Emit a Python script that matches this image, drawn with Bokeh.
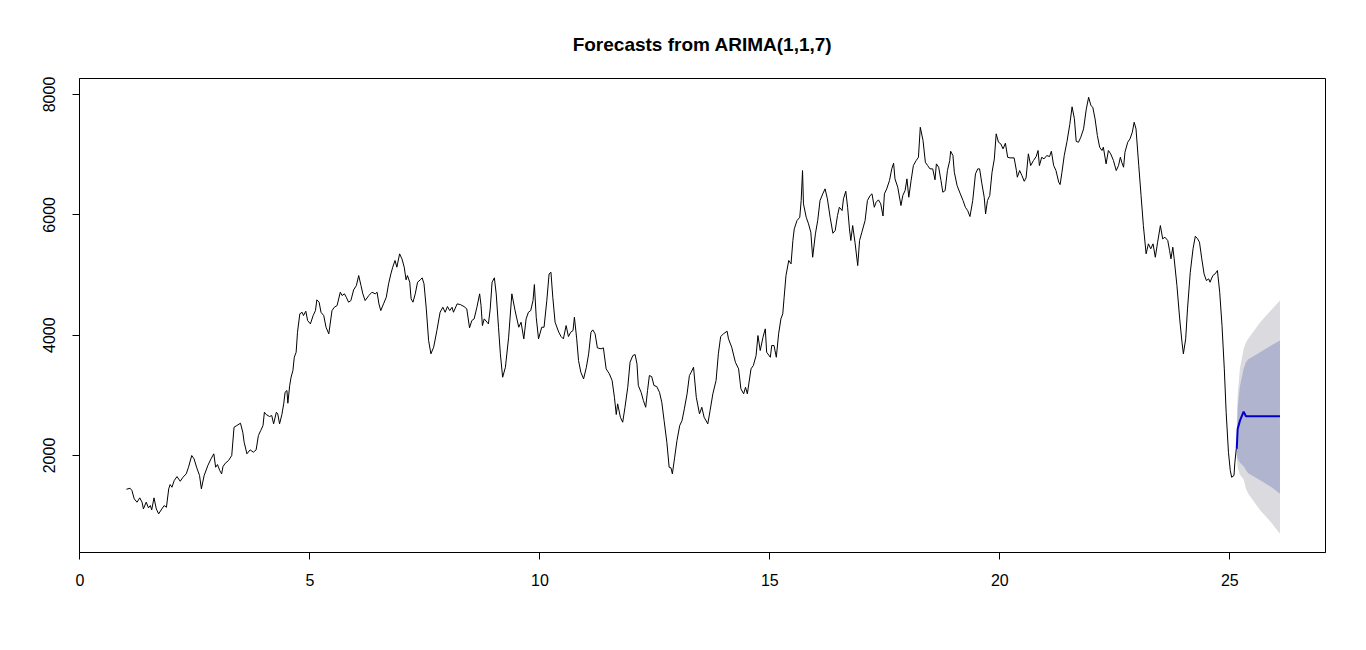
from bokeh.plotting import figure
from bokeh.models import Range1d, FixedTicker
from bokeh.embed import file_html
from bokeh.resources import INLINE

t_obs = [1.01, 1.09, 1.13, 1.18, 1.24, 1.30, 1.35, 1.38, 1.44, 1.49, 1.53, 1.56, 1.61, 1.66, 1.71, 1.78,
         1.83, 1.88, 1.93, 1.96, 2.00, 2.05, 2.11, 2.18, 2.24, 2.31, 2.36, 2.43, 2.48, 2.54, 2.60, 2.64,
         2.70, 2.78, 2.85, 2.91, 2.95, 2.99, 3.04, 3.08, 3.11, 3.16, 3.23, 3.30, 3.35, 3.41, 3.49, 3.54,
         3.57, 3.63, 3.70, 3.77, 3.83, 3.88, 3.93, 3.98, 4.01, 4.05, 4.12, 4.17, 4.21, 4.27, 4.30, 4.34,
         4.39, 4.43, 4.46, 4.50, 4.52, 4.56, 4.59, 4.63, 4.66, 4.70, 4.73, 4.78, 4.83, 4.86, 4.91, 4.95,
         5.01, 5.07, 5.12, 5.15, 5.20, 5.24, 5.30, 5.35, 5.41, 5.48, 5.53, 5.59, 5.66, 5.70, 5.75, 5.79,
         5.84, 5.89, 5.95, 6.01, 6.06, 6.11, 6.15, 6.20, 6.28, 6.35, 6.42, 6.46, 6.50, 6.54, 6.60, 6.66,
         6.71, 6.76, 6.80, 6.85, 6.89, 6.95, 7.00, 7.05, 7.09, 7.12, 7.17, 7.20, 7.24, 7.29, 7.34, 7.40,
         7.44, 7.48, 7.53, 7.58, 7.63, 7.69, 7.76, 7.83, 7.89, 7.94, 7.99, 8.04, 8.09, 8.12, 8.20, 8.27,
         8.35, 8.41, 8.47, 8.52, 8.57, 8.63, 8.69, 8.72, 8.75, 8.79, 8.85, 8.88, 8.92, 8.96, 9.01, 9.05,
         9.10, 9.14, 9.19, 9.25, 9.32, 9.39, 9.46, 9.54, 9.59, 9.65, 9.70, 9.75, 9.80, 9.85, 9.88, 9.92,
         9.97, 10.04, 10.09, 10.15, 10.20, 10.24, 10.28, 10.33, 10.41, 10.46, 10.51, 10.57, 10.62, 10.67,
         10.72, 10.75, 10.80, 10.84, 10.89, 10.95, 11.01, 11.06, 11.11, 11.15, 11.20, 11.25, 11.33, 11.38,
         11.44, 11.51, 11.57, 11.62, 11.66, 11.69, 11.75, 11.80, 11.85, 11.91, 11.96, 12.02, 12.07, 12.11,
         12.14, 12.20, 12.25, 12.30, 12.34, 12.38, 12.43, 12.48, 12.54, 12.60, 12.65, 12.70, 12.76, 12.81,
         12.85, 12.88, 12.93, 12.98, 13.04, 13.09, 13.14, 13.20, 13.25, 13.29, 13.34, 13.40, 13.47, 13.52,
         13.57, 13.65, 13.70, 13.76, 13.83, 13.88, 13.93, 13.99, 14.07, 14.10, 14.17, 14.25, 14.32, 14.37,
         14.43, 14.47, 14.51, 14.59, 14.64, 14.70, 14.74, 14.79, 14.85, 14.90, 14.93, 15.01, 15.04, 15.09,
         15.14, 15.19, 15.24, 15.28, 15.31, 15.35, 15.41, 15.46, 15.50, 15.53, 15.59, 15.65, 15.68, 15.71,
         15.73, 15.79, 15.84, 15.89, 15.93, 15.99, 16.04, 16.09, 16.15, 16.20, 16.25, 16.31, 16.37, 16.42,
         16.47, 16.51, 16.57, 16.60, 16.65, 16.69, 16.73, 16.76, 16.80, 16.85, 16.91, 16.95, 17.00, 17.07,
         17.12, 17.18, 17.22, 17.27, 17.31, 17.36, 17.41, 17.46, 17.49, 17.54, 17.60, 17.65, 17.69, 17.72,
         17.78, 17.85, 17.89, 17.94, 17.98, 18.02, 18.07, 18.12, 18.18, 18.23, 18.27, 18.33, 18.38, 18.43,
         18.48, 18.54, 18.59, 18.62, 18.67, 18.72, 18.76, 18.81, 18.86, 18.91, 18.93, 18.98, 19.01, 19.07,
         19.14, 19.20, 19.25, 19.30, 19.35, 19.41, 19.47, 19.52, 19.56, 19.61, 19.66, 19.69, 19.73, 19.78,
         19.83, 19.88, 19.92, 19.97, 20.02, 20.07, 20.12, 20.17, 20.22, 20.31, 20.36, 20.38, 20.43, 20.48,
         20.53, 20.57, 20.62, 20.67, 20.73, 20.79, 20.83, 20.86, 20.91, 20.96, 21.02, 21.08, 21.12, 21.17,
         21.22, 21.28, 21.31, 21.35, 21.40, 21.46, 21.52, 21.57, 21.62, 21.66, 21.71, 21.76, 21.82, 21.88,
         21.93, 21.98, 22.02, 22.07, 22.12, 22.17, 22.22, 22.25, 22.31, 22.36, 22.41, 22.47, 22.53, 22.58,
         22.62, 22.65, 22.69, 22.72, 22.78, 22.83, 22.88, 22.92, 22.96, 23.02, 23.07, 23.12, 23.18, 23.23,
         23.28, 23.33, 23.38, 23.43, 23.49, 23.54, 23.59, 23.65, 23.69, 23.72, 23.76, 23.79, 23.85, 23.91,
         23.96, 23.99, 24.04, 24.08, 24.14, 24.20, 24.25, 24.30, 24.34, 24.39, 24.44, 24.49, 24.54, 24.57,
         24.63, 24.68, 24.73, 24.78, 24.83, 24.88, 24.92, 24.97, 25.01, 25.04, 25.09, 25.11, 25.14]

v_obs = [1439, 1456, 1418, 1280, 1224, 1296, 1224, 1113, 1224, 1130, 1168, 1097, 1296, 1113, 1030, 1113,
         1168, 1140, 1446, 1517, 1473, 1584, 1650, 1572, 1639, 1695, 1805, 2000, 1945, 1795, 1667, 1446,
         1667, 1833, 1945, 2028, 1805, 1850, 1750, 1695, 1817, 1872, 1916, 2000, 2470, 2498, 2537, 2387,
         2220, 2028, 2094, 2055, 2094, 2332, 2415, 2498, 2719, 2681, 2648, 2664, 2526, 2719, 2692, 2526,
         2681, 2859, 3051, 3080, 2869, 3163, 3301, 3412, 3633, 3716, 4049, 4355, 4381, 4326, 4398, 4243,
         4188, 4326, 4409, 4587, 4548, 4381, 4326, 4132, 4022, 4409, 4464, 4492, 4714, 4659, 4687, 4631,
         4548, 4575, 4753, 4825, 4991, 4825, 4687, 4575, 4659, 4714, 4687, 4714, 4520, 4409, 4520, 4631,
         4853, 5019, 5130, 5241, 5130, 5352, 5269, 5130, 4920, 4991, 4880, 4604, 4548, 4687, 4880, 4920,
         4953, 4853, 4437, 3911, 3690, 3800, 4077, 4381, 4464, 4381, 4476, 4409, 4464, 4381, 4520, 4509,
         4476, 4437, 4122, 4243, 4271, 4464, 4687, 4492, 4160, 4271, 4215, 4188, 4437, 4880, 4953, 4687,
         4132, 3690, 3301, 3467, 3966, 4687, 4409, 4132, 4215, 3939, 4271, 4381, 4409, 4575, 4841, 4298,
         3939, 4132, 4132, 4575, 5019, 5046, 4631, 4215, 4049, 3977, 3939, 4160, 3977, 4049,
         4077, 4298, 3939, 3578, 3384, 3274, 3467, 3690, 4049, 4088, 4022, 3789, 3773, 3789,
         3440, 3357, 3246, 2968, 2681, 2859, 2636, 2553, 2802, 3135, 3550, 3661, 3678, 3523,
         3163, 3051, 2913, 2802, 3080, 3329, 3312, 3163, 3146, 3051, 2885, 2581, 2220, 1805,
         1795, 1695, 1971, 2249, 2498, 2581, 2775, 3025, 3329, 3384, 3467, 2968, 2692, 2802,
         2636, 2526, 2747, 3025, 3246, 3690, 3977, 4022, 4066, 3939, 3800, 3550, 3440, 3108,
         3025, 3135, 3025, 3440, 3495, 3661, 3994, 3745, 3966, 4105, 3716, 3633, 3828, 3828,
         3633, 4022, 4271, 4355, 4631, 4991, 5241, 5185, 5573, 5767, 5905, 5960, 6237, 6736,
         6183, 5960, 5850, 5711, 5295, 5684, 5905, 6237, 6349, 6432, 6266, 5960, 5694, 5739,
         5988, 6126, 6071, 6266, 6392, 6126, 5767, 5573, 5822, 5545, 5157, 5573, 5711, 5905,
         6237, 6321, 6349, 6126, 6209, 6249, 6183, 5980, 6349, 6432, 6570, 6764, 6858, 6598,
         6459, 6155, 6321, 6404, 6598, 6293, 6570, 6819, 6902, 6957, 7456, 7235, 6874, 6819,
         6764, 6764, 6582, 6847, 6791, 6570, 6376, 6404, 6736, 6902, 7057, 6985, 6708, 6487,
         6349, 6237, 6126, 6071, 5972, 6237, 6681, 6764, 6764, 6515, 6293, 6016, 6237, 6321,
         6708, 6930, 7346, 7207, 7180, 7097, 7190, 6957, 6947, 6947, 6736, 6625, 6736, 6653,
         6558, 6614, 7014, 6819, 6902, 6969, 7069, 6819, 6957, 6930, 6985, 6969, 7057, 6819,
         6736, 6542, 6503, 6708, 6985, 7220, 7500, 7795, 7600, 7220, 7207, 7290, 7429, 7761,
         7954, 7816, 7788, 7595, 7318, 7124, 7069, 7124, 6847, 7069, 7014, 6902, 6736, 6819,
         6957, 6874, 6791, 7041, 7207, 7263, 7373, 7539, 7429, 6819, 6321, 5822, 5352, 5518,
         5435, 5518, 5295, 5545, 5822, 5601, 5628, 5573, 5407, 5269, 5462, 5269, 4825, 4271,
         3883, 3690, 3939, 4437, 5046, 5435, 5645, 5601, 5545, 5269, 5019, 4908, 4936, 4880,
         4991, 5019, 5074, 4714, 4160, 3440, 2719, 2055, 1750, 1639, 1667, 1888, 2111]

# ---- forecast ----
t_fc = [25.15, 25.17, 25.22, 25.30, 25.35, 25.40, 25.66, 25.90, 26.09]
mean_fc = [2110, 2440, 2580, 2730, 2653, 2653, 2653, 2653, 2653]
hi95 = [2300, 3000, 3450, 3770, 3880, 3940, 4215, 4420, 4575]
lo95 = [1950, 1800, 1680, 1600, 1450, 1366, 1091, 886, 698]
hi80 = [2230, 2800, 3150, 3440, 3550, 3600, 3716, 3830, 3911]
lo80 = [2010, 1950, 1880, 1820, 1760, 1706, 1590, 1476, 1363]

x_ticks = [0, 5, 10, 15, 20, 25]
y_ticks = [2000, 4000, 6000, 8000]

FONT = "Liberation Sans"

p = figure(width=1350, height=630,
           x_range=Range1d(-0.01, 27.08), y_range=Range1d(388, 8266),
           output_backend="svg", toolbar_location=None,
           min_border_left=79, min_border_right=25, min_border_top=78, min_border_bottom=78,
           title="Forecasts from ARIMA(1,1,7)")

p.title.text_font = FONT
p.title.text_font_size = "19px"
p.title.text_font_style = "bold"
p.title.align = "center"
p.title.text_color = "black"
p.title.standoff = 47

p.xgrid.visible = False
p.ygrid.visible = False
p.background_fill_color = "white"
p.border_fill_color = "white"
p.outline_line_color = "black"
p.outline_line_width = 1
p.outline_line_alpha = 1.0

for ax in (p.xaxis[0], p.yaxis[0]):
    ax.axis_line_color = "black"
    ax.major_tick_line_color = "black"
    ax.major_tick_in = 0
    ax.major_tick_out = 7
    ax.minor_tick_line_color = None
    ax.major_label_text_font = FONT
    ax.major_label_text_font_size = "16px"
    ax.major_label_text_color = "black"

p.xaxis[0].ticker = FixedTicker(ticks=x_ticks)
p.yaxis[0].ticker = FixedTicker(ticks=y_ticks)
p.xaxis[0].major_label_standoff = 14
p.yaxis[0].major_label_standoff = 17
p.yaxis[0].major_label_orientation = "vertical"

p.varea(x=t_fc, y1=lo95, y2=hi95, fill_color="#DADADF")
p.varea(x=t_fc, y1=lo80, y2=hi80, fill_color="#B0B4CF")
p.line(t_obs, v_obs, line_color="black", line_width=1)
p.line(t_fc, mean_fc, line_color="#0000CC", line_width=2)

open("out.html", "w").write(file_html(p, INLINE))
